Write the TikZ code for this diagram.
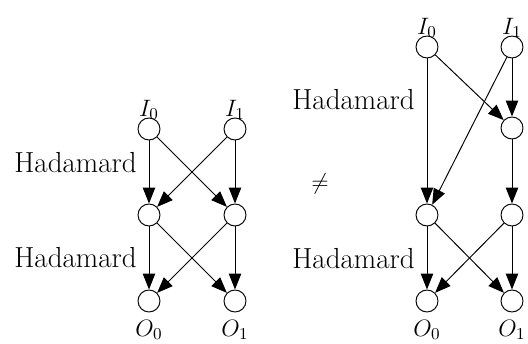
\RequirePackage{fix-cm}
\documentclass[tikz,border=0pt]{standalone}
\usepackage{amsmath, amssymb}
\usepackage{tikz}
\usetikzlibrary{arrows.meta, positioning}

\begin{document}
\begin{tikzpicture}[x=0.02cm, y=-0.02cm,
    qubit/.style={circle, draw, line width=0.55pt, inner sep=0pt, minimum size=0.44cm},
    wire/.style={-{Triangle[length=9pt, width=7pt]}, line width=0.55pt},
    gate/.style={anchor=base east, inner sep=0pt, font=\fontsize{16.5}{19}\selectfont},
    io/.style={inner sep=0pt, font=\fontsize{13.5}{16}\selectfont}]
    \useasboundingbox (0,0) rectangle (528,344);

    % 左图 - 两层 Hadamard
    \node[qubit] (a0) at (149,129) {};
    \node[qubit] (a1) at (235,129) {};
    \node[qubit] (b0) at (149,215) {};
    \node[qubit] (b1) at (235,215) {};
    \node[qubit] (c0) at (149,301) {};
    \node[qubit] (c1) at (235,301) {};
    \node[io, above=-1.5pt of a0] (li0) {$I_0$};
    \node[io, above=-1.5pt of a1] (li1) {$I_1$};
    \node[io, below=4pt of c0] (lo0) {$O_0$};
    \node[io, below=4pt of c1] (lo1) {$O_1$};
    \node[gate] (h1) at (137,173) {Hadamard};
    \node[gate] (h2) at (137,268) {Hadamard};
    \foreach \s in {0,1} \foreach \t in {0,1} {
        \draw[wire] (a\s) -- (b\t);
        \draw[wire] (b\s) -- (c\t);
    }

    \node[font=\fontsize{13}{15}\selectfont] (ne) at (320,184) {$\neq$};

    % 右图 - 交叉连线拆开
    \node[qubit] (p0) at (427,47) {};
    \node[qubit] (p1) at (512,47) {};
    \node[qubit] (q1) at (512,128) {};
    \node[qubit] (r0) at (427,215) {};
    \node[qubit] (r1) at (512,215) {};
    \node[qubit] (s0) at (427,301) {};
    \node[qubit] (s1) at (512,301) {};
    \node[io, above=-1.5pt of p0] (ri0) {$I_0$};
    \node[io, above=-1.5pt of p1] (ri1) {$I_1$};
    \node[io, below=4pt of s0] (ro0) {$O_0$};
    \node[io, below=4pt of s1] (ro1) {$O_1$};
    \node[gate] (h3) at (415,110) {Hadamard};
    \node[gate] (h4) at (415,269) {Hadamard};
    \draw[wire] (p0) -- (r0);
    \draw[wire] (p0) -- (q1);
    \draw[wire] (p1) -- (q1);
    \draw[wire] (p1) -- (r0);
    \draw[wire] (q1) -- (r1);
    \foreach \s in {0,1} \foreach \t in {0,1}
        \draw[wire] (r\s) -- (s\t);
\end{tikzpicture}
\end{document}
